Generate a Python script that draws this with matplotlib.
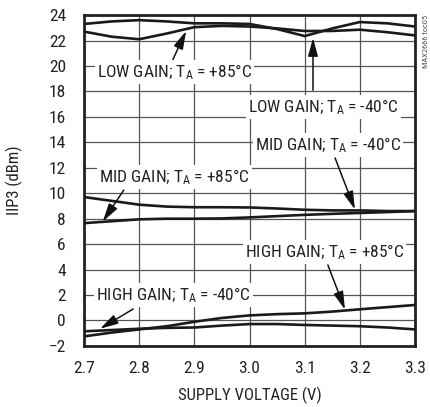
import matplotlib
matplotlib.use('Agg')
import matplotlib.pyplot as plt

# supply voltage samples (V)
vcc = [2.70, 2.75, 2.80, 2.85, 2.90, 2.95, 3.00, 3.05, 3.10, 3.15, 3.20, 3.25, 3.30]

# IIP3 (dBm)
low_m40 = [23.3, 23.5, 23.6, 23.5, 23.35, 23.35, 23.3, 22.9, 22.35, 22.95, 23.45, 23.35, 23.1]
low_p85 = [22.7, 22.3, 22.1, 22.55, 23.05, 23.15, 23.1, 22.95, 22.75, 22.75, 22.85, 22.65, 22.4]
mid_m40 = [9.7, 9.4, 9.1, 8.95, 8.9, 8.9, 8.88, 8.8, 8.7, 8.65, 8.65, 8.6, 8.6]
mid_p85 = [7.65, 7.8, 7.95, 8.0, 8.0, 8.02, 8.1, 8.2, 8.3, 8.38, 8.45, 8.52, 8.6]
high_m40 = [-0.85, -0.75, -0.65, -0.58, -0.55, -0.4, -0.28, -0.28, -0.35, -0.4, -0.45, -0.55, -0.7]
high_p85 = [-1.25, -0.95, -0.7, -0.45, -0.1, 0.2, 0.4, 0.5, 0.56, 0.7, 0.88, 1.05, 1.22]

xticks = [2.7, 2.8, 2.9, 3.0, 3.1, 3.2, 3.3]
yticks = list(range(-2, 25, 2))

fam = ['Roboto Condensed', 'Liberation Sans', 'DejaVu Sans']
plt.rcParams['font.family'] = fam
plt.rcParams['mathtext.fontset'] = 'custom'
plt.rcParams['mathtext.rm'] = 'Roboto Condensed'
plt.rcParams['mathtext.it'] = 'Roboto Condensed'

fig = plt.figure(figsize=(4.31, 4.07), dpi=100)
ax = fig.add_axes([0.195, 0.150, 0.768, 0.813])

for y in [low_m40, low_p85, mid_m40, mid_p85, high_m40, high_p85]:
    ax.plot(vcc, y, color='#1a1a1a', lw=1.9, zorder=3, solid_capstyle='butt')

ax.set_xlim(2.7, 3.3)
ax.set_ylim(-2, 24)
ax.set_xticks(xticks)
ax.set_xticklabels(['%.1f' % v for v in xticks])
ax.set_yticks(yticks)
ax.grid(True, color='#555555', lw=0.9)
ax.tick_params(length=0, labelsize=12.5, colors='#222222')
ax.tick_params(axis='x', pad=11)
ax.tick_params(axis='y', pad=13)
for s in ax.spines.values():
    s.set_linewidth(2.0)
    s.set_color('#222222')
ax.set_axisbelow(True)

ax.set_xlabel('SUPPLY VOLTAGE (V)', fontsize=12, color='#222222')
ax.set_ylabel('IIP3 (dBm)', fontsize=12, color='#222222')
ax.xaxis.set_label_coords(0.5, -0.122)
ax.yaxis.set_label_coords(-0.185, 0.5)

labels = [
    ('LOW GAIN; T$_\\mathrm{A}$ = +85°C', 2.724, 19.55, (2.861, 20.5), (2.885, 22.75)),
    ('LOW GAIN; T$_\\mathrm{A}$ = -40°C', 2.998, 16.75, (3.115, 18.1), (3.115, 22.2)),
    ('MID GAIN; T$_\\mathrm{A}$ = -40°C', 3.01, 13.8, (3.155, 12.77), (3.191, 8.72)),
    ('MID GAIN; T$_\\mathrm{A}$ = +85°C', 2.727, 11.3, (2.772, 10.25), (2.734, 7.78)),
    ('HIGH GAIN; T$_\\mathrm{A}$ = +85°C', 2.991, 5.4, (3.142, 4.36), (3.173, 0.85)),
    ('HIGH GAIN; T$_\\mathrm{A}$ = -40°C', 2.722, 2.0, (2.789, 0.9), (2.729, -0.65)),
]
for txt, x, y, tail, head in labels:
    ax.annotate('', xy=head, xytext=tail,
                arrowprops=dict(arrowstyle='-|>,head_length=1.1,head_width=0.3',
                                color='#111111', lw=1.1, mutation_scale=10,
                                shrinkA=0, shrinkB=0), zorder=4)
    ax.text(x, y, txt, fontsize=12.5, ha='left', va='center', color='#222222',
            bbox=dict(boxstyle='square,pad=0.12', fc='white', ec='none'), zorder=5)

fig.text(0.988, 0.963, 'MAX2666 toc05', rotation=90, fontsize=6, color='#555555',
         ha='center', va='top')

fig.savefig('out.png', dpi=100)
